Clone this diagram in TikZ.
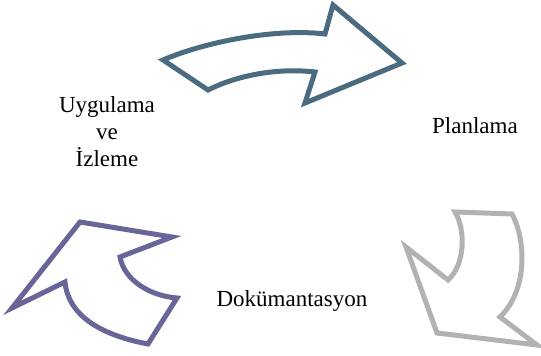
\documentclass[tikz,border=0pt]{standalone}
\usepackage{fontspec}
\setmainfont{Liberation Serif}
\definecolor{slateblue}{RGB}{74,107,128}
\definecolor{lightgray}{RGB}{178,178,178}
\definecolor{purplish}{RGB}{104,101,152}
\begin{document}
\begin{tikzpicture}[x=0.5pt,y=-0.5pt,line width=2.5pt,line join=miter,
  every node/.style={font=\fontsize{11.5}{13.5}\selectfont,align=center}]
  \useasboundingbox (0,0) rectangle (541,356);

  \draw [color=slateblue] (163,60) .. controls (205,42) and (275,28) .. (325,34) -- (333,5) -- (402,63) -- (305,103) -- (315,72) .. controls (280,68) and (240,74) .. (208,90) -- cycle;
  \draw [color=lightgray] (455,212) -- (512,214) .. controls (526,240) and (528,290) .. (500,317) -- (537,345) -- (437,333) -- (406,247) -- (448,280) .. controls (465,265) and (466,230) .. (455,212) -- cycle;
  \draw [color=purplish] (80,222) -- (172,237) -- (120,257) .. controls (124,280) and (150,296) .. (177,298) -- (148,344) .. controls (100,335) and (68,315) .. (65,282) -- (12,308) -- cycle;

  \node (izleme) at (107,132) {Uygulama\\ve\\İzleme};
  \node (planlama) at (475,126) {Planlama};
  \node (dokuman) at (292,301) {Dokümantasyon};
\end{tikzpicture}
\end{document}
